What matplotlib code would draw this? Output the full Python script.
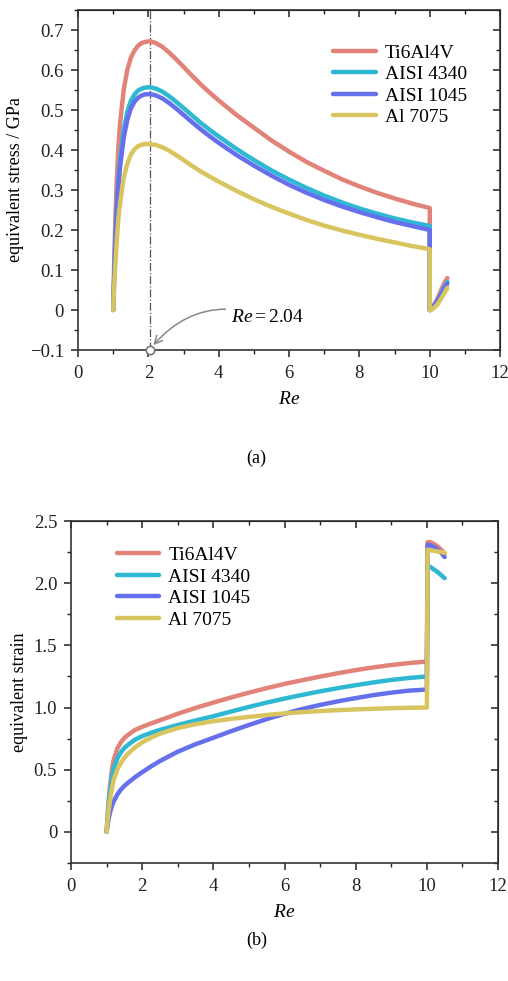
import numpy as np
import matplotlib
matplotlib.use('Agg')
import matplotlib.pyplot as plt
from matplotlib.ticker import MultipleLocator, FuncFormatter, NullFormatter

plt.rcParams['font.family'] = ['Liberation Serif', 'DejaVu Serif']
plt.rcParams['mathtext.fontset'] = 'custom'
plt.rcParams['mathtext.rm'] = 'Liberation Serif'
plt.rcParams['mathtext.it'] = 'Liberation Serif:italic'
plt.rcParams['font.size'] = 12

materials = ['Ti6Al4V', 'AISI 4340', 'AISI 1045', 'Al 7075']
colors = ['#e2837a', '#2fb8d4', '#6670ec', '#d9c55f']

# (a) equivalent stress vs Re
re_a = [1.0, 1.03, 1.06, 1.1, 1.15, 1.2, 1.3, 1.4, 1.5, 1.6, 1.7, 1.8, 1.9, 2.04, 2.2,
        2.4, 2.6, 2.8, 3.0, 3.25, 3.5, 3.75, 4.0, 4.5, 5.0, 5.5, 6.0, 6.5, 7.0, 7.5, 8.0,
        8.5, 9.0, 9.5, 10.0]
stress_ti = [0.0, 0.12, 0.22, 0.32, 0.41, 0.47, 0.55, 0.6, 0.63, 0.648, 0.66, 0.667, 0.67,
             0.672, 0.668, 0.658, 0.643, 0.626, 0.608, 0.585, 0.563, 0.543, 0.524, 0.488,
             0.456, 0.424, 0.396, 0.37, 0.348, 0.327, 0.309, 0.293, 0.279, 0.266, 0.255]
stress_4340 = [0.0, 0.09, 0.17, 0.25, 0.33, 0.38, 0.45, 0.495, 0.522, 0.538, 0.548, 0.553,
               0.556, 0.557, 0.554, 0.546, 0.534, 0.52, 0.505, 0.486, 0.467, 0.45, 0.434,
               0.403, 0.375, 0.349, 0.326, 0.305, 0.286, 0.269, 0.254, 0.241, 0.229,
               0.219, 0.21]
stress_1045 = [0.0, 0.08, 0.16, 0.24, 0.31, 0.36, 0.43, 0.475, 0.503, 0.52, 0.53, 0.536,
               0.539, 0.54, 0.537, 0.529, 0.517, 0.503, 0.488, 0.469, 0.451, 0.434, 0.418,
               0.388, 0.361, 0.336, 0.313, 0.293, 0.275, 0.259, 0.245, 0.232, 0.22, 0.21,
               0.2]
stress_7075 = [0.0, 0.06, 0.11, 0.17, 0.23, 0.27, 0.33, 0.365, 0.388, 0.401, 0.409, 0.413,
               0.415, 0.415, 0.413, 0.407, 0.398, 0.387, 0.375, 0.36, 0.346, 0.333, 0.321,
               0.298, 0.277, 0.258, 0.241, 0.225, 0.211, 0.199, 0.188, 0.178, 0.169, 0.16,
               0.152]
# unloading drop at Re = 10 and the short branch after it
re_a_tail = [10.02, 10.1, 10.2, 10.3, 10.4, 10.5]
tail_ti = [0.0, 0.01, 0.025, 0.045, 0.065, 0.08]
tail_4340 = [0.0, 0.008, 0.02, 0.037, 0.055, 0.07]
tail_1045 = [0.0, 0.008, 0.02, 0.035, 0.052, 0.066]
tail_7075 = [0.0, 0.004, 0.012, 0.025, 0.04, 0.055]
re_peak = 2.04

# (b) equivalent strain vs Re
re_b = [1.0, 1.03, 1.06, 1.1, 1.15, 1.2, 1.3, 1.4, 1.5, 1.6, 1.8, 2.0, 2.25, 2.5, 3.0, 3.5,
        4.0, 4.5, 5.0, 5.5, 6.0, 6.5, 7.0, 7.5, 8.0, 8.5, 9.0, 9.5, 10.0]
strain_ti = [0.0, 0.14, 0.26, 0.38, 0.5, 0.58, 0.67, 0.72, 0.755, 0.78, 0.82, 0.845, 0.872,
             0.898, 0.95, 0.997, 1.04, 1.081, 1.12, 1.156, 1.19, 1.22, 1.249, 1.276, 1.301,
             1.323, 1.342, 1.358, 1.37]
strain_4340 = [0.0, 0.12, 0.22, 0.33, 0.44, 0.51, 0.59, 0.64, 0.675, 0.7, 0.742, 0.77,
               0.797, 0.82, 0.86, 0.896, 0.93, 0.968, 1.005, 1.04, 1.072, 1.102, 1.13,
               1.156, 1.18, 1.202, 1.222, 1.238, 1.25]
strain_1045 = [0.0, 0.06, 0.11, 0.16, 0.21, 0.245, 0.3, 0.34, 0.37, 0.395, 0.44, 0.48,
               0.527, 0.57, 0.645, 0.705, 0.757, 0.81, 0.86, 0.907, 0.95, 0.988, 1.021,
               1.05, 1.076, 1.1, 1.12, 1.136, 1.145]
strain_7075 = [0.0, 0.1, 0.18, 0.26, 0.35, 0.42, 0.5, 0.555, 0.595, 0.63, 0.68, 0.72,
               0.758, 0.79, 0.835, 0.866, 0.89, 0.909, 0.925, 0.94, 0.953, 0.963, 0.972,
               0.979, 0.985, 0.99, 0.995, 0.998, 1.0]
re_b_tail = [10.02, 10.1, 10.2, 10.3, 10.4, 10.5]
strain_tail_ti = [2.33, 2.33, 2.315, 2.295, 2.27, 2.24]
strain_tail_4340 = [2.14, 2.13, 2.11, 2.09, 2.065, 2.04]
strain_tail_1045 = [2.31, 2.305, 2.29, 2.27, 2.245, 2.21]
strain_tail_7075 = [2.27, 2.265, 2.26, 2.255, 2.25, 2.245]

stress = [stress_ti, stress_4340, stress_1045, stress_7075]
stress_tail = [tail_ti, tail_4340, tail_1045, tail_7075]
strain = [strain_ti, strain_4340, strain_1045, strain_7075]
strain_tail = [strain_tail_ti, strain_tail_4340, strain_tail_1045, strain_tail_7075]


def fmt_tick(v, pos):
    if abs(v) < 1e-9:
        return '0'
    return ('%.1f' % v).replace('-', '\u2212')


def style_axes(ax, ymajor, yminor):
    ax.xaxis.set_major_locator(MultipleLocator(2))
    ax.xaxis.set_minor_locator(MultipleLocator(1))
    ax.yaxis.set_major_locator(MultipleLocator(ymajor))
    ax.yaxis.set_minor_locator(MultipleLocator(yminor))
    ax.yaxis.set_major_formatter(FuncFormatter(fmt_tick))
    ax.xaxis.set_major_formatter(FuncFormatter(lambda v, p: '%d' % v))
    ax.tick_params(which='major', direction='out', length=5, width=1.1, labelsize=13.5,
                   colors='#222222')
    ax.tick_params(axis='x', which='major', pad=6)
    ax.tick_params(axis='y', which='major', pad=5)
    ax.tick_params(which='minor', direction='out', length=3, width=1.0, colors='#222222')
    for s in ax.spines.values():
        s.set_linewidth(1.2)
        s.set_color('#333333')
    # mirrored ticks pointing inward on top and right
    top = ax.secondary_xaxis('top')
    top.xaxis.set_major_locator(MultipleLocator(2))
    top.xaxis.set_minor_locator(MultipleLocator(1))
    top.xaxis.set_major_formatter(NullFormatter())
    top.tick_params(which='major', direction='in', length=5, width=1.1, colors='#222222')
    top.tick_params(which='minor', direction='in', length=3, width=1.0, colors='#222222')
    right = ax.secondary_yaxis('right')
    right.yaxis.set_major_locator(MultipleLocator(ymajor))
    right.yaxis.set_minor_locator(MultipleLocator(yminor))
    right.yaxis.set_major_formatter(NullFormatter())
    right.tick_params(which='major', direction='in', length=5, width=1.1, colors='#222222')
    right.tick_params(which='minor', direction='in', length=3, width=1.0, colors='#222222')


fig = plt.figure(figsize=(5.08, 9.81), dpi=100)

# ---- (a) stress ----
ax1 = fig.add_axes([0.1535, 0.6432, 0.831, 0.3466])
for name, c, ys, yt in zip(materials, colors, stress, stress_tail):
    ax1.plot(re_a + [re_a[-1]] + re_a_tail, ys + [0.0] + yt, color=c, lw=3.2,
             label=name, solid_capstyle='round', solid_joinstyle='round')
ax1.axvline(re_peak, color='#555555', lw=0.9, ls='-.', zorder=0)
ax1.plot([re_peak], [-0.1], 'o', ms=6, mfc='white', mec='#777777', mew=1.2,
         clip_on=False, zorder=5)
ax1.annotate(r'$Re=2.04$', xy=(re_peak + 0.05, -0.093), xytext=(4.35, -0.018),
             fontsize=14, va='center', ha='left',
             arrowprops=dict(arrowstyle='->', color='#888888', lw=1.1,
                             connectionstyle='arc3,rad=0.35', shrinkA=2, shrinkB=2))
ax1.set_xlim(0, 12)
ax1.set_ylim(-0.1, 0.75)
style_axes(ax1, 0.1, 0.05)
ax1.set_xlabel(r'$Re$', fontsize=14, labelpad=6)
ax1.set_ylabel('equivalent stress / GPa', fontsize=13)
ax1.legend(loc='upper left', bbox_to_anchor=(0.605, 0.9), frameon=False, fontsize=14,
           handlelength=2.2, handletextpad=0.45, labelspacing=0.2, borderpad=0,
           borderaxespad=0)
fig.text(0.505, 0.533, '(a)', ha='center', va='center', fontsize=13)

# ---- (b) strain ----
ax2 = fig.add_axes([0.1398, 0.1203, 0.8406, 0.3486])
for name, c, ys, yt in zip(materials, colors, strain, strain_tail):
    ax2.plot(re_b + re_b_tail, ys + yt, color=c, lw=3.2, label=name,
             solid_capstyle='round', solid_joinstyle='round')
ax2.set_xlim(0, 12)
ax2.set_ylim(-0.25, 2.5)
style_axes(ax2, 0.5, 0.25)
ax2.set_xlabel(r'$Re$', fontsize=14, labelpad=6)
ax2.set_ylabel('equivalent strain', fontsize=13)
ax2.legend(loc='upper left', bbox_to_anchor=(0.107, 0.925), frameon=False, fontsize=14,
           handlelength=2.2, handletextpad=0.45, labelspacing=0.2, borderpad=0,
           borderaxespad=0)
fig.text(0.505, 0.041, '(b)', ha='center', va='center', fontsize=13)

fig.savefig('out.png', dpi=100)
